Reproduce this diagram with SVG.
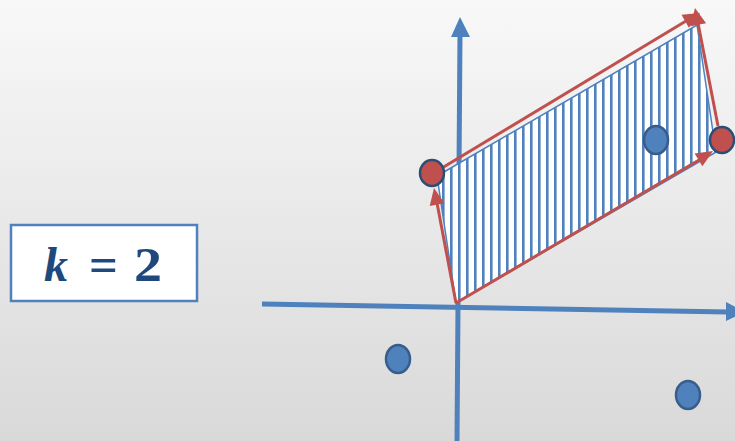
<svg xmlns="http://www.w3.org/2000/svg" width="735" height="441" viewBox="0 0 735 441">
<defs>
<linearGradient id="bg" x1="0" y1="0" x2="0" y2="1">
<stop offset="0" stop-color="#f8f8f8"/>
<stop offset="1" stop-color="#d9d9d9"/>
</linearGradient>
<pattern id="hatch" patternUnits="userSpaceOnUse" width="8" height="10" x="439">
<rect x="0" y="0" width="8" height="10" fill="#ffffff"/>
<rect x="3" y="0" width="2.6" height="10" fill="#4f81bd"/>
</pattern>
</defs>
<style>
.axis{stroke:#4f81bd;stroke-width:5;fill:none}
.axhead{fill:#4f81bd}
.vec{stroke:#c0504d;stroke-width:3;fill:none}
.head{fill:#c0504d}
.red{fill:#c0504d;stroke:#2c4d75;stroke-width:2.5}
.blue{fill:#4f81bd;stroke:#385d8a;stroke-width:2.5}
.label{font-family:"Liberation Serif",serif;font-weight:bold;font-size:48px;fill:#1f497d}
</style>
<rect width="735" height="441" fill="url(#bg)"/>
<g id="axes">
<line class="axis" x1="262" y1="304" x2="728" y2="312"/>
<path class="axhead" d="M745,312 L726,302 L726,321 Z"/>
<line class="axis" x1="457" y1="441" x2="460" y2="34"/>
<path class="axhead" d="M460,17 L451,37 L470,37 Z"/>
</g>
<g id="region">
<polygon points="456,303 437,176 697,25 716,152" fill="url(#hatch)" stroke="#4f81bd" stroke-width="1.5"/>
</g>
<g id="connectors">
<line class="vec" x1="456" y1="303" x2="437" y2="203"/>
<path class="head" d="M434,188 L444.5,203.3 L429.7,206.1 Z"/>
<line class="vec" x1="456" y1="303" x2="699" y2="160"/>
<path class="head" d="M713,151 L702.4,166.3 L694.6,153.5 Z"/>
<line class="vec" x1="442" y1="168" x2="686" y2="21"/>
<path class="head" d="M700,13 L688.9,27.8 L681.5,14.8 Z"/>
<line class="vec" x1="718" y1="126" x2="698" y2="23"/>
<path class="head" d="M695,8 L706.1,23.2 L690.3,26.2 Z"/>
</g>
<g id="point-a"><ellipse class="red" cx="432" cy="173" rx="12" ry="13"/></g>
<g id="point-b"><ellipse class="red" cx="722" cy="140" rx="12" ry="13"/></g>
<g id="point-c"><ellipse class="blue" cx="656" cy="140" rx="12" ry="14"/></g>
<g id="point-d"><ellipse class="blue" cx="398" cy="359" rx="12" ry="14"/></g>
<g id="point-e"><ellipse class="blue" cx="688" cy="395" rx="12" ry="14"/></g>
<g id="k-label">
<rect x="11" y="225" width="186" height="76" fill="#ffffff" stroke="#4f81bd" stroke-width="2.5"/>
<text class="label" x="44" y="281" font-style="italic">k</text>
<text class="label" x="89" y="281" textLength="29" lengthAdjust="spacingAndGlyphs">=</text>
<text class="label" x="134" y="281" textLength="28" lengthAdjust="spacingAndGlyphs">2</text>
</g>
</svg>
